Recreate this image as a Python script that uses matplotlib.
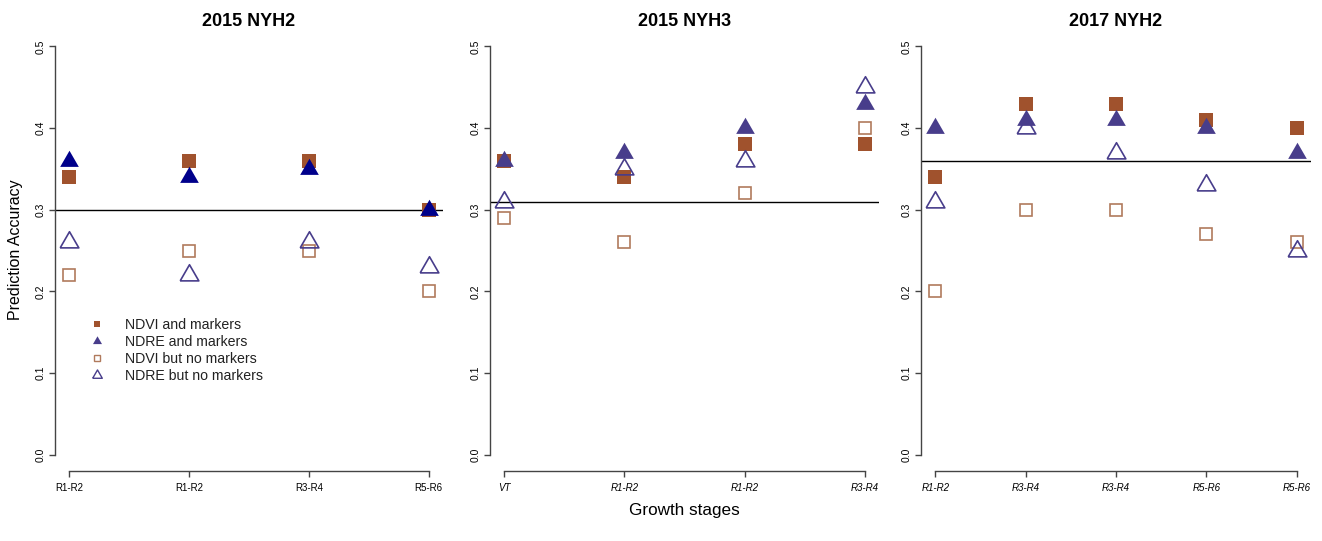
import numpy as np
import matplotlib.pyplot as plt
from matplotlib.lines import Line2D

plt.rcParams['font.family'] = ['Liberation Sans', 'DejaVu Sans']

# panel titles, stage labels and accuracies
titles = ['2015 NYH2', '2015 NYH3', '2017 NYH2']
stages = [['R1-R2', 'R1-R2', 'R3-R4', 'R5-R6'],
          ['VT', 'R1-R2', 'R1-R2', 'R3-R4'],
          ['R1-R2', 'R3-R4', 'R3-R4', 'R5-R6', 'R5-R6']]
ndvi_markers = [[0.34, 0.36, 0.36, 0.30],
                [0.36, 0.34, 0.38, 0.38],
                [0.34, 0.43, 0.43, 0.41, 0.40]]
ndre_markers = [[0.36, 0.34, 0.35, 0.30],
                [0.36, 0.37, 0.40, 0.43],
                [0.40, 0.41, 0.41, 0.40, 0.37]]
ndvi_only = [[0.22, 0.25, 0.25, 0.20],
             [0.29, 0.26, 0.32, 0.40],
             [0.20, 0.30, 0.30, 0.27, 0.26]]
ndre_only = [[0.26, 0.22, 0.26, 0.23],
             [0.31, 0.35, 0.36, 0.45],
             [0.31, 0.40, 0.37, 0.33, 0.25]]
baseline = [0.30, 0.31, 0.36]

legend_labels = ['NDVI and markers', 'NDRE and markers',
                 'NDVI but no markers', 'NDRE but no markers']

sienna = '#a0522d'
tan = '#b07a5c'
slate = '#483d8b'
navy = '#00008b'
tri_fill = [navy, slate, slate]
italic = [False, True, True]

# equilateral triangle centred on its centroid (like R pch 2/17)
tri = [(-1, -1 / np.sqrt(3)), (1, -1 / np.sqrt(3)), (0, 2 / np.sqrt(3)), (-1, -1 / np.sqrt(3))]

W, H = 1322, 541
fig = plt.figure(figsize=(W / 100, H / 100), dpi=100)

# plot regions in pixels: left, right, top, bottom
boxes = [(55, 443, 30, 471), (490, 879, 30, 471), (921, 1311, 30, 471)]

axes = []
for i in range(3):
    l, r, t, b = boxes[i]
    ax = fig.add_axes([l / W, 1 - b / H, (r - l) / W, (b - t) / H])
    axes.append(ax)
    n = len(stages[i])
    x = np.arange(1, n + 1)
    ax.axhline(baseline[i], color='black', lw=1.0, zorder=1)
    ax.plot(x, ndvi_markers[i], ls='none', marker='s', ms=9.6, mew=0,
            color=sienna, zorder=2)
    ax.plot(x, ndre_markers[i], ls='none', marker=tri, ms=15.5, mew=0,
            color=tri_fill[i], zorder=3)
    ax.plot(x, ndvi_only[i], ls='none', marker='s', ms=9.0, mew=1.2,
            mec=tan, mfc='white', zorder=4)
    ax.plot(x, ndre_only[i], ls='none', marker=tri, ms=15.5, mew=1.2,
            mec=slate, mfc='none', zorder=5)

    pad = 0.04 * (n - 1)
    ax.set_xlim(1 - pad, n + pad)
    ax.set_ylim(-0.02, 0.52)
    ax.set_xticks(x)
    ax.set_xticklabels(stages[i], fontsize=7, style='italic' if italic[i] else 'normal')
    ax.set_yticks([0.0, 0.1, 0.2, 0.3, 0.4, 0.5])
    ax.set_yticklabels(['0.0', '0.1', '0.2', '0.3', '0.4', '0.5'],
                       fontsize=7.5, rotation=90, va='center')
    for s in ['top', 'right']:
        ax.spines[s].set_visible(False)
    ax.spines['left'].set_bounds(0, 0.5)
    ax.spines['bottom'].set_bounds(1, n)
    for s in ['left', 'bottom']:
        ax.spines[s].set_color('#444444')
        ax.spines[s].set_linewidth(1.0)
    ax.tick_params(axis='both', length=4.5, width=1.0, color='#444444')
    ax.tick_params(axis='x', pad=4)
    ax.tick_params(axis='y', pad=2)
    ax.set_title(titles[i], fontsize=13, fontweight='bold', pad=3)

fig.text(16 / W, 1 - 250 / H, 'Prediction Accuracy', rotation=90,
         ha='center', va='center', fontsize=11.5)
fig.text(684 / W, 1 - 511 / H, 'Growth stages', ha='center', va='center',
         fontsize=12.3)

handles = [
    Line2D([], [], ls='none', marker='s', ms=5, mew=0, color=sienna),
    Line2D([], [], ls='none', marker=tri, ms=7.5, mew=0, color=slate),
    Line2D([], [], ls='none', marker='s', ms=5, mew=1.0, mec=tan, mfc='white'),
    Line2D([], [], ls='none', marker=tri, ms=8, mew=1.0, mec=slate, mfc='none'),
]
axes[0].legend(handles, legend_labels, loc='upper left',
               bbox_to_anchor=(0.09, 0.347), frameon=False, fontsize=10.2,
               handlelength=1.0, handletextpad=1.5, labelspacing=0.22,
               borderpad=0, borderaxespad=0, labelcolor='#222222')

fig.savefig('out.png', dpi=100)
